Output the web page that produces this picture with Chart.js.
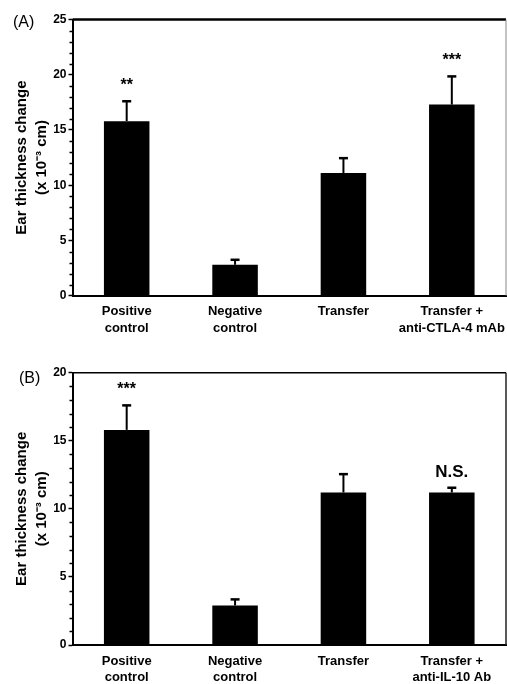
<!DOCTYPE html>
<html>
<head>
<meta charset="utf-8">
<script src="https://cdn.jsdelivr.net/npm/chart.js@4"></script>
<style>
  body { margin:0; background:#fff; }
  #wrap { position:relative; width:507px; height:684px; overflow:hidden; }
  .pane { position:absolute; left:0; }
  .tag { position:absolute; font:16px "Liberation Sans", Arial, sans-serif; color:#000; }
</style>
</head>
<body>
<div id="wrap">
  <canvas id="chartA" class="pane" width="507" height="340" style="top:0"></canvas>
  <canvas id="chartB" class="pane" width="507" height="344" style="top:340px"></canvas>
  <div class="tag" style="left:13px;top:13px">(A)</div>
  <div class="tag" style="left:19px;top:369px">(B)</div>
</div>
<script>
const FONT = '"Liberation Sans", Arial, sans-serif';

// panel A
const catsA = [["Positive","control"],["Negative","control"],["Transfer"],["Transfer +","anti-CTLA-4 mAb"]];
const meanA = [15.8, 2.8, 11.1, 17.3];
const semA  = [1.8, 0.45, 1.35, 2.55];
const markA = ["**", "", "", "***"];

// panel B
const catsB = [["Positive","control"],["Negative","control"],["Transfer"],["Transfer +","anti-IL-10 Ab"]];
const meanB = [15.8, 2.9, 11.2, 11.2];
const semB  = [1.8, 0.45, 1.35, 0.35];
const markB = ["***", "", "", "N.S."];

const yTitle = ["Ear thickness change", "(x 10\u207B\u00B3 cm)"];

// upper error bars + significance marks
const errPlugin = {
  id: "errbars",
  afterDatasetsDraw(chart, args, o) {
    const ctx = chart.ctx, x = chart.scales.x, y = chart.scales.y;
    ctx.save();
    ctx.strokeStyle = "#000"; ctx.fillStyle = "#000";
    o.mean.forEach((m, i) => {
      const px = x.getPixelForValue(i);
      const y0 = y.getPixelForValue(m), y1 = y.getPixelForValue(m + o.sem[i]);
      ctx.lineWidth = 2;
      ctx.beginPath(); ctx.moveTo(px, y0); ctx.lineTo(px, y1); ctx.stroke();
      ctx.lineWidth = 2.5;
      ctx.beginPath(); ctx.moveTo(px - 4.5, y1); ctx.lineTo(px + 4.5, y1); ctx.stroke();
      const t = o.mark[i];
      if (t) {
        ctx.font = (t.indexOf("*") >= 0 ? "bold 16px " : "bold 17px ") + FONT;
        ctx.textAlign = "center"; ctx.textBaseline = "alphabetic";
        ctx.fillText(t, px, y1 - 11);
      }
    });
    ctx.restore();
  }
};

// minor ticks on y axis + top/right frame
const framePlugin = {
  id: "frame",
  afterDraw(chart, args, o) {
    const ctx = chart.ctx, y = chart.scales.y, a = chart.chartArea;
    ctx.save();
    ctx.strokeStyle = "#000"; ctx.lineWidth = 1.5;
    for (let v = y.min; v <= y.max; v++) {
      if (v % 5 === 0) continue;
      const py = Math.round(y.getPixelForValue(v)) + 0.5;
      ctx.beginPath(); ctx.moveTo(a.left, py); ctx.lineTo(a.left - 3, py); ctx.stroke();
    }
    ctx.lineWidth = o.topW;
    ctx.beginPath(); ctx.moveTo(a.left, a.top); ctx.lineTo(a.right, a.top); ctx.stroke();
    ctx.strokeStyle = o.rightC; ctx.lineWidth = o.rightW;
    ctx.beginPath(); ctx.moveTo(a.right, a.top); ctx.lineTo(a.right, a.bottom); ctx.stroke();
    ctx.restore();
  }
};

function makeChart(id, cats, mean, sem, mark, yMax, padTop, xH, frame) {
  return new Chart(document.getElementById(id), {
    type: "bar",
    data: { labels: cats, datasets: [{ data: mean, backgroundColor: "#000", barPercentage: 0.42, categoryPercentage: 1 }] },
    plugins: [errPlugin, framePlugin],
    options: {
      responsive: false, animation: false,
      layout: { padding: { top: padTop, right: 1, left: 0, bottom: 0 } },
      plugins: {
        legend: { display: false }, tooltip: { enabled: false },
        errbars: { mean: mean, sem: sem, mark: mark },
        frame: frame
      },
      scales: {
        x: {
          afterFit: s => { s.height = xH; },
          grid: { display: false },
          border: { display: true, color: "#000", width: 2 },
          ticks: { color: "#000", padding: 0, maxRotation: 0, minRotation: 0, autoSkip: false,
                   font: { family: FONT, size: 13, weight: "bold", lineHeight: 1.25 } }
        },
        y: {
          min: 0, max: yMax,
          afterFit: s => { s.width = 72.5; },
          grid: { drawOnChartArea: false, tickLength: 4, color: "#000", tickWidth: 1.5 },
          border: { display: true, color: "#000", width: 2 },
          ticks: { stepSize: 5, color: "#000", padding: 2, font: { family: FONT, size: 12, weight: "bold" } },
          title: { display: true, text: yTitle, color: "#000", padding: { top: 12, bottom: 0 },
                   font: { family: FONT, size: 15, weight: "bold", lineHeight: 1.333 } }
        }
      }
    }
  });
}

makeChart("chartA", catsA, meanA, semA, markA, 25, 19.5, 44.3, { topW: 2.5, rightW: 1, rightC: "#888" });
makeChart("chartB", catsB, meanB, semB, markB, 20, 32.7, 39, { topW: 1.5, rightW: 1.5, rightC: "#222" });
</script>
</body>
</html>
